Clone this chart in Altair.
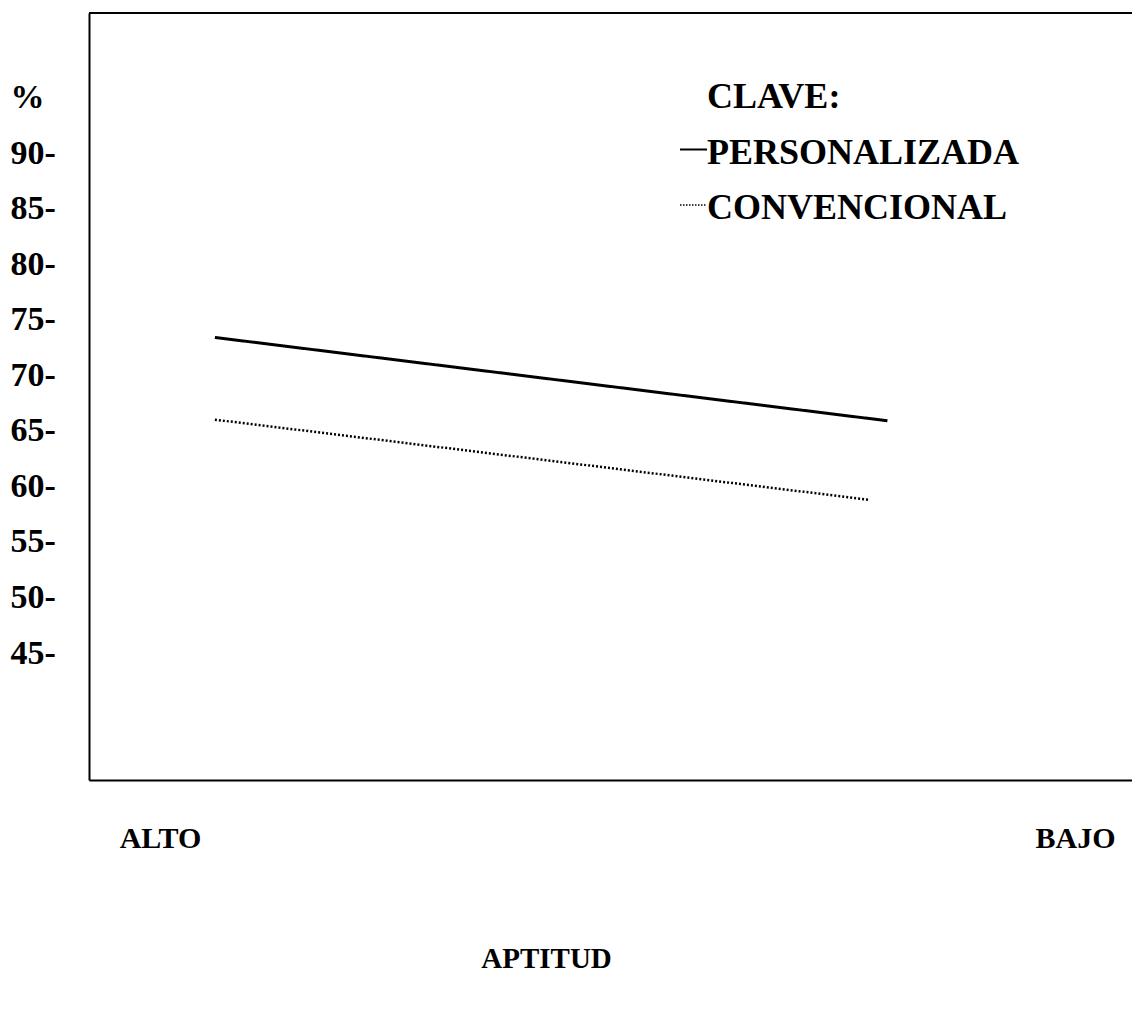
import altair as alt
import pandas as pd

# --- data ---
series = ["PERSONALIZADA", "CONVENCIONAL"]
aptitud_start = [0.06, 0.06]      # 0 = ALTO, 1 = BAJO
aptitud_end = [0.795, 0.774]
pct_start = [73.4, 66.0]
pct_end = [65.9, 58.8]

y_ticks = [45, 50, 55, 60, 65, 70, 75, 80, 85, 90, 95]
x_ticks = [0, 1]
x_tick_labels = ["ALTO", "BAJO"]
legend_title = "CLAVE:"

rows = []
for s, x0, x1, y0, y1 in zip(series, aptitud_start, aptitud_end, pct_start, pct_end):
    rows.append({"serie": s, "aptitud": x0, "pct": y0})
    rows.append({"serie": s, "aptitud": x1, "pct": y1})
df = pd.DataFrame(rows)

FONT = "Liberation Serif"
W, H = 1043, 767

xscale = alt.Scale(domain=[-71 / 915, (W - 71) / 915], nice=False, zero=False)
yscale = alt.Scale(domain=[33.57, 102.6], nice=False, zero=False)

x_label_expr = f"datum.value == 0 ? '{x_tick_labels[0]}' : '{x_tick_labels[1]}'"

lines = alt.Chart(df).mark_line(color="black").encode(
    x=alt.X("aptitud:Q", scale=xscale,
            axis=alt.Axis(values=x_ticks, labelExpr=x_label_expr, tickSize=0, ticks=False,
                          grid=False, domain=True, domainColor="black", domainWidth=2,
                          labelFont=FONT, labelFontWeight="bold", labelFontSize=30,
                          labelColor="black", labelBaseline="middle", labelPadding=58,
                          labelOverlap=False, labelFlush=False, labelBound=False,
                          title="APTITUD", titleFont=FONT, titleFontWeight="bold",
                          titleFontSize=29, titleColor="black", titleBaseline="middle",
                          titleY=178, titleX=457, titleAlign="center")),
    y=alt.Y("pct:Q", scale=yscale,
            axis=alt.Axis(values=y_ticks,
                          labelExpr="datum.value == 95 ? '%' : datum.label + '-'",
                          tickSize=0, ticks=False, grid=False, domain=True,
                          domainColor="black", domainWidth=2,
                          labelFont=FONT, labelFontWeight="bold", labelFontSize=34,
                          labelColor="black", labelAlign="left", labelPadding=79,
                          labelOverlap=False, labelFlush=False, labelBound=False,
                          title=None)),
    detail="serie:N",
    strokeDash=alt.StrokeDash("serie:N", scale=alt.Scale(domain=series, range=[[1, 0], [2, 2]]),
                              legend=None),
    strokeWidth=alt.StrokeWidth("serie:N", scale=alt.Scale(domain=series, range=[3, 2.5]),
                                legend=None),
)

top_line = alt.Chart(df).mark_rule(color="black", strokeWidth=2).encode(
    x=alt.value(0), x2=alt.value(W + 10), y=alt.value(0)
)

leg_df = pd.DataFrame({"t": [legend_title] + series, "row": [0, 1, 2]})
legend_text = alt.Chart(leg_df).mark_text(
    font=FONT, fontWeight="bold", fontSize=36, align="left", baseline="middle", color="black"
).encode(
    x=alt.value(618),
    y=alt.Y("row:Q", scale=alt.Scale(domain=[0, 2], range=[84, 195], zero=False, nice=False),
            axis=None),
    text="t:N",
)

sample_df = pd.DataFrame({"serie": series, "row": [1, 2]})
legend_samples = alt.Chart(sample_df).mark_rule(color="black").encode(
    x=alt.value(591), x2=alt.value(618),
    y=alt.Y("row:Q", scale=alt.Scale(domain=[0, 2], range=[81, 192], zero=False, nice=False),
            axis=None),
    strokeDash=alt.StrokeDash("serie:N", scale=alt.Scale(domain=series, range=[[1, 0], [1.5, 1.5]]),
                              legend=None),
    strokeWidth=alt.StrokeWidth("serie:N", scale=alt.Scale(domain=series, range=[2, 1.5]),
                                legend=None),
)

chart = alt.layer(lines, top_line, legend_text, legend_samples).resolve_scale(
    y="independent", strokeDash="independent", strokeWidth="independent"
).properties(
    width=W, height=H,
    autosize=alt.AutoSizeParams(type="none"),
    padding={"left": 81, "top": 5, "right": 0, "bottom": 215},
    background="white",
).configure_view(stroke=None)

chart.save("out.html", embed_options={"renderer": "svg", "actions": False})
